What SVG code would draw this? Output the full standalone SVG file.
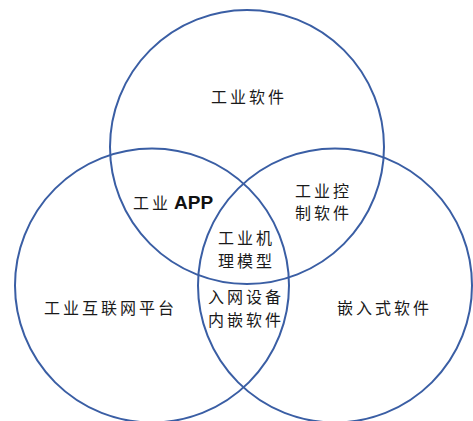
<svg xmlns="http://www.w3.org/2000/svg" width="473" height="421" viewBox="0 0 473 421">
<style>
.c{fill:none;stroke:#3a5ea4;stroke-width:2}
.t{font-family:"Noto Sans CJK SC","Noto Sans",sans-serif;font-size:16px;letter-spacing:3px;fill:#1a1a1a}
.b{font-family:"Liberation Sans",Arial,sans-serif;font-weight:bold;font-size:19px;letter-spacing:0;fill:#111}
</style>
<rect width="473" height="421" fill="#fff"/>
<g id="circles">
<circle id="top" class="c" cx="247" cy="147" r="137"/>
<circle id="left" class="c" cx="152" cy="285.5" r="137"/>
<circle id="right" class="c" cx="335" cy="285.5" r="137"/>
</g>
<g id="labels">
<text id="l-soft" class="t" x="211" y="103">工业软件</text>
<text id="l-app" class="t" x="133" y="209">工业<tspan class="b" x="174">APP</tspan></text>
<text id="l-ctrl" class="t"><tspan x="295" y="197">工业控</tspan><tspan x="295" y="219">制软件</tspan></text>
<text id="l-model" class="t"><tspan x="218" y="244">工业机</tspan><tspan x="218" y="267">理模型</tspan></text>
<text id="l-dev" class="t"><tspan x="208" y="303">入网设备</tspan><tspan x="208" y="326">内嵌软件</tspan></text>
<text id="l-plat" class="t" x="44" y="314">工业互联网平台</text>
<text id="l-emb" class="t" x="337" y="314">嵌入式软件</text>
</g>
</svg>
